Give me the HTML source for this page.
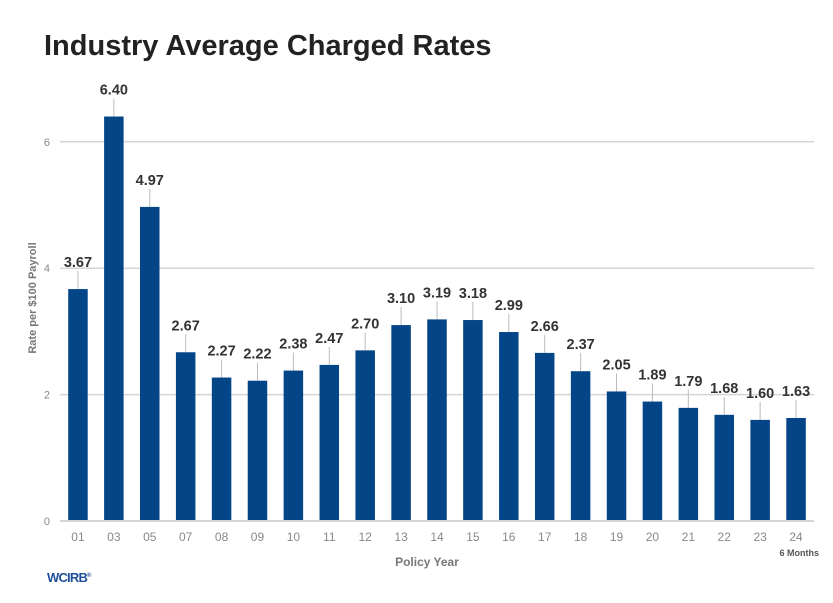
<!DOCTYPE html>
<html><head><meta charset="utf-8"><style>
body{margin:0;background:#fff;width:833px;height:598px;overflow:hidden;font-family:"Liberation Sans",sans-serif}
</style></head><body>
<svg width="833" height="598">
<text x="44" y="55" font-size="29" font-weight="bold" fill="#222">Industry Average Charged Rates</text>
<g id="grid"></g><g id="bars"></g>
<text transform="translate(36,298) rotate(-90)" text-anchor="middle" font-size="11" font-weight="bold" fill="#777">Rate per $100 Payroll</text>
<text x="427" y="566" text-anchor="middle" font-size="12" font-weight="bold" fill="#777">Policy Year</text>
<text x="819" y="556" text-anchor="end" font-size="9" font-weight="bold" fill="#555">6 Months</text>
<text x="47" y="582" font-size="13" font-weight="bold" fill="#1f4e9a" letter-spacing="-0.8">WCIRB<tspan font-size="6" dy="-5">®</tspan></text>
</svg>
<script>
const categories=["01","03","05","07","08","09","10","11","12","13","14","15","16","17","18","19","20","21","22","23","24"].filter((c,i)=>true);
const cats=["01","03","05","07","08","09","10","11","12","13","14","15","16","17","18","19","20","21","22","23","24"];
const values=[3.67,6.40,4.97,2.67,2.27,2.22,2.38,2.47,2.70,3.10,3.19,3.18,2.99,2.66,2.37,2.05,1.89,1.79,1.68,1.60,1.63];
const yTicks=[0,2,4,6];
const NS="http://www.w3.org/2000/svg";
const x0=60,x1=814,base=521,per=63.2;
const step=(x1-x0)/cats.length;
const xc=i=>x0+step*(i+0.5);
const y=v=>base-v*per;
const grid=document.getElementById('grid'),bars=document.getElementById('bars');
function mk(tag,attrs,parent){const e=document.createElementNS(NS,tag);for(const k in attrs)e.setAttribute(k,attrs[k]);parent.appendChild(e);return e;}
yTicks.forEach(t=>{
 const l=mk('line',{x1:x0,x2:x1,y1:y(t),y2:y(t),stroke:'#d4d4d4','stroke-width':t===0?2:1.5},grid);
 
 
 const tx=mk('text',{x:50,y:y(t)+4,'text-anchor':'end','font-size':11,fill:'#888'},grid);
 tx.textContent=t;
 
 
});
cats.forEach((c,i)=>{
 const v=values[i],cx=xc(i),w=19.5;
 const r=mk('rect',{x:cx-w/2,y:y(v),width:w,height:base-y(v)-1,fill:'#034587'},bars);
 
 
 const ln=mk('line',{x1:cx,x2:cx,y1:y(v),y2:y(v)-18,stroke:'#bbb','stroke-width':1},bars);
 
 
 const lb=mk('text',{x:cx,y:y(v)-22,'text-anchor':'middle','font-size':14.5,'font-weight':'bold',fill:'#333'},bars);
 lb.textContent=v.toFixed(2);
 
 
 const xl=mk('text',{x:cx,y:541,'text-anchor':'middle','font-size':12,fill:'#888'},bars);
 xl.textContent=c;
 
 
});
</script>
</body></html>
